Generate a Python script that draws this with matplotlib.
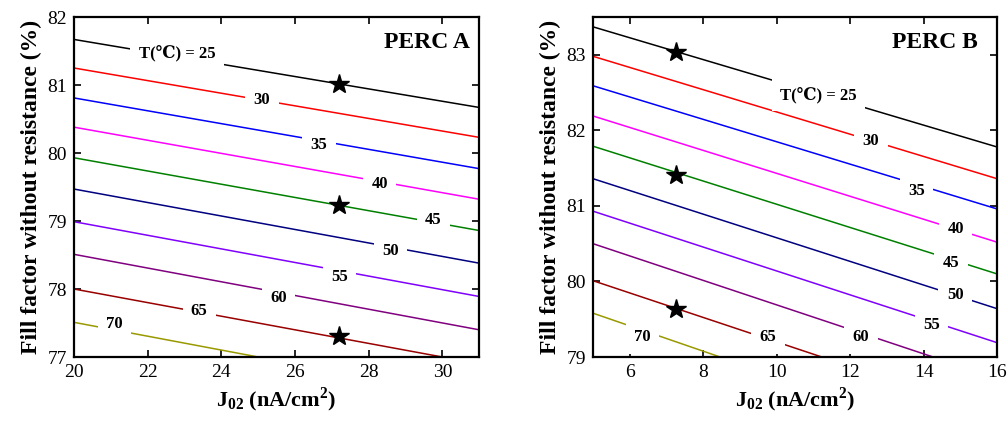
import matplotlib.pyplot as plt

plt.rcParams['font.family'] = ['Liberation Serif', 'DejaVu Serif', 'DejaVu Sans']
plt.rcParams['mathtext.fontset'] = 'custom'
plt.rcParams['mathtext.rm'] = 'Liberation Serif'
plt.rcParams['mathtext.bf'] = 'Liberation Serif:bold'

# temperaturas e cores das curvas
temps = [25, 30, 35, 40, 45, 50, 55, 60, 65, 70]
cores = ['black', 'red', 'blue', 'magenta', 'green', '#000080',
         '#8000ff', '#800080', '#990000', '#999900']

# PERC A: FF nas extremidades de J02
j02_a = [[20, 31]] * 8 + [[20, 30], [20, 25]]
ff_a = [[81.67, 80.67], [81.25, 80.23], [80.81, 79.77], [80.38, 79.32],
        [79.93, 78.86], [79.47, 78.38], [78.99, 77.89], [78.51, 77.40],
        [78.00, 77.00], [77.51, 77.00]]
lab_a_x = [22.8, 25.1, 26.65, 28.3, 29.75, 28.6, 27.2, 25.55, 23.4, 21.1]
lab_a_y = [81.47, 80.78, 80.12, 79.55, 79.01, 78.56, 78.17, 77.87, 77.67, 77.49]
star_a_x = [27.2, 27.2, 27.2]
star_a_y = [81.01, 79.23, 77.31]

# PERC B
j02_b = [[5, 16]] * 7 + [[5, 14.26], [5, 11.23], [5, 8.46]]
ff_b = [[83.37, 81.78], [82.98, 81.36], [82.59, 80.96], [82.19, 80.52],
        [81.79, 80.10], [81.36, 79.64], [80.93, 79.19], [80.50, 79.00],
        [80.01, 79.00], [79.58, 79.00]]
lab_b_x = [11.13, 12.57, 13.8, 14.88, 14.75, 14.86, 14.22, 12.3, 9.77, 6.35]
lab_b_y = [82.47, 81.86, 81.20, 80.69, 80.24, 79.82, 79.42, 79.26, 79.26, 79.26]
star_b_x = [7.25, 7.25, 7.25]
star_b_y = [83.04, 81.41, 79.64]

fig = plt.figure(figsize=(10.08, 4.21), dpi=100)
ax1 = fig.add_axes([0.0734, 0.152, 0.402, 0.8076])
ax2 = fig.add_axes([0.5883, 0.152, 0.4008, 0.8076])

paineis = [
    (ax1, j02_a, ff_a, lab_a_x, lab_a_y, star_a_x, star_a_y, 'PERC A',
     (20, 31), (77, 82), range(20, 31, 2), range(77, 83), 0.871),
    (ax2, j02_b, ff_b, lab_b_x, lab_b_y, star_b_x, star_b_y, 'PERC B',
     (5, 16), (79, 83.5), range(6, 17, 2), range(79, 84), 0.846),
]

for ax, xs, ys, lx, ly, sx, sy, titulo, xlim, ylim, xt, yt, tx in paineis:
    for i in range(len(temps)):
        ax.plot(xs[i], ys[i], color=cores[i], lw=1.1, zorder=2)
        txt = 'T(\u2103) = 25' if i == 0 else str(temps[i])
        ax.text(lx[i], ly[i], txt, ha='center', va='center', fontsize=12,
                fontweight='bold', zorder=3,
                bbox=dict(facecolor='white', edgecolor='none', pad=6))
    ax.plot(sx, sy, linestyle='none', marker='*', color='black',
            markersize=15, zorder=4)
    ax.text(tx, 0.925, titulo, transform=ax.transAxes, ha='center',
            va='center', fontsize=17, fontweight='bold')
    ax.set_xlim(xlim)
    ax.set_ylim(ylim)
    ax.set_xticks(list(xt))
    ax.set_yticks(list(yt))
    ax.tick_params(direction='in', top=True, right=True, length=5,
                   width=1.2, labelsize=14, pad=5)
    for s in ax.spines.values():
        s.set_linewidth(1.6)
    ax.set_xlabel(r'$\mathbf{J_{02}}$ (nA/cm$^\mathbf{2}$)', fontsize=16,
                  fontweight='bold', labelpad=3)
    ax.set_ylabel('Fill factor without resistance (%)', fontsize=17,
                  fontweight='bold', labelpad=4)

plt.savefig('out.png', dpi=100)
